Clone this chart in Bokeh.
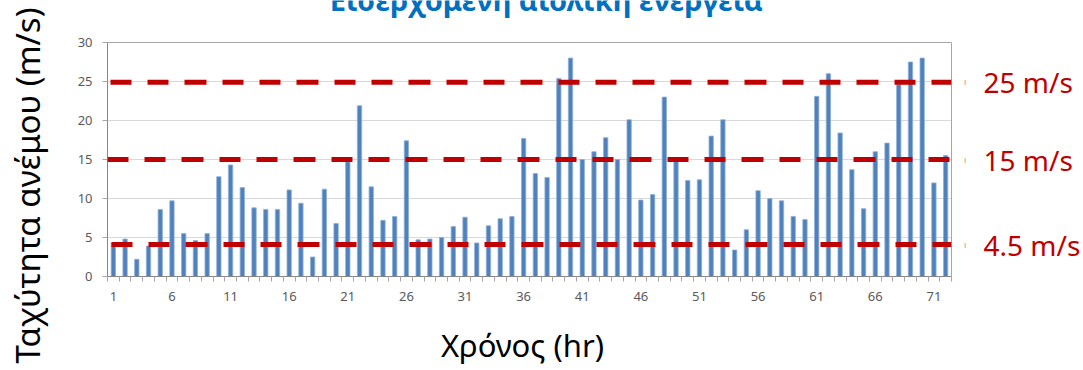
from bokeh.plotting import figure
from bokeh.models import Range1d, FixedTicker, Span, LinearAxis
from bokeh.core.properties import value
from bokeh.embed import file_html
from bokeh.resources import INLINE

# ---- data ----
hours = list(range(1, 73))
wind_speed = [4.3, 4.8, 2.2, 3.9, 8.6, 9.7, 5.5, 4.6, 5.5, 12.8,
              14.3, 11.4, 8.8, 8.6, 8.6, 11.1, 9.4, 2.5, 11.2, 6.8,
              14.7, 21.9, 11.5, 7.2, 7.7, 17.4, 4.7, 4.8, 5.0, 6.4,
              7.6, 4.3, 6.5, 7.4, 7.7, 17.7, 13.2, 12.7, 25.4, 28.0,
              15.0, 16.0, 17.8, 15.0, 20.1, 9.8, 10.5, 23.0, 14.8, 12.3,
              12.4, 18.0, 20.1, 3.4, 6.0, 11.0, 10.0, 9.7, 7.7, 7.3,
              23.1, 26.0, 18.4, 13.7, 8.7, 16.0, 17.1, 24.6, 27.5, 28.0,
              12.0, 15.5]
xtick_values = [1, 6, 11, 16, 21, 26, 31, 36, 41, 46, 51, 56, 61, 66, 71]
xtick_labels = ["1", "6", "11", "16", "21", "26", "31", "36", "41", "46", "51", "56", "61", "66", "71"]
ytick_values = [0, 5, 10, 15, 20, 25, 30]
threshold_levels = [24.9, 15.0, 4.1]
threshold_labels = ["25 m/s", "15 m/s", "4.5 m/s"]

title_text = "Εισερχόμενη αιολική ενέργεια"
x_title = "Χρόνος (hr)"
y_title = "Ταχύτητα ανέμου (m/s)"

FONT = "Noto Sans"
RED = "#c00000"
GREY_TXT = "#595959"
BORDER = "#a6a6a6"

# frame reaches the top edge so the (cut-off) title can sit above the 0..30 box
p = figure(width=1083, height=370, output_backend="svg", toolbar_location=None,
           x_range=Range1d(0.5, 72.5), y_range=Range1d(0, 35.385),
           min_border_left=107, min_border_right=128, min_border_top=0, min_border_bottom=94)
p.background_fill_color = "white"
p.border_fill_color = "white"
p.outline_line_color = None

p.vbar(x=hours, top=wind_speed, width=0.37, fill_color="#4f81bd",
       line_color="#8fb0d8", line_width=0.8)

# x axis
xa = p.xaxis[0]
xa.ticker = FixedTicker(ticks=xtick_values, minor_ticks=[h - 0.5 for h in hours] + [72.5])
xa.major_label_overrides = {v: l for v, l in zip(xtick_values, xtick_labels)}
xa.major_tick_in = 0
xa.major_tick_out = 0
xa.minor_tick_in = 0
xa.minor_tick_out = 5
xa.minor_tick_line_color = BORDER
xa.axis_line_color = "#868686"
xa.major_label_standoff = 10
xa.major_label_text_font = FONT
xa.major_label_text_font_size = "13px"
xa.major_label_text_color = GREY_TXT

# y axis
ya = p.yaxis[0]
ya.bounds = (0, 30)
ya.ticker = FixedTicker(ticks=ytick_values, minor_ticks=[])
ya.major_tick_in = 0
ya.major_tick_out = 5
ya.major_tick_line_color = BORDER
ya.axis_line_color = "#868686"
ya.major_label_standoff = 10
ya.major_label_text_font = FONT
ya.major_label_text_font_size = "13px"
ya.major_label_text_color = GREY_TXT

p.xgrid.grid_line_color = None
p.ygrid.grid_line_color = "#d9d9d9"
p.ygrid.grid_line_width = 1

# top border of the plot box
p.add_layout(Span(location=30, dimension="width", line_color=BORDER, line_width=1))

# threshold dashed lines
offsets = [109, 0, 108]
for lvl, off in zip(threshold_levels, offsets):
    p.add_layout(Span(location=lvl, dimension="width", line_color=RED, line_width=5,
                      line_dash="21 16 21 16 22 16", line_dash_offset=off))

# right border + tiny red marks
r1 = LinearAxis(bounds=(0, 30), ticker=FixedTicker(ticks=threshold_levels, minor_ticks=[]),
                major_label_overrides={v: "|" for v in threshold_levels})
r1.axis_line_color = BORDER
r1.major_tick_in = 0
r1.major_tick_out = 0
r1.major_label_standoff = 12
r1.major_label_text_font = FONT
r1.major_label_text_font_size = "6px"
r1.major_label_text_color = RED
p.add_layout(r1, "right")

# right threshold labels
r2 = LinearAxis(ticker=FixedTicker(ticks=threshold_levels, minor_ticks=[]),
                major_label_overrides={v: t for v, t in zip(threshold_levels, threshold_labels)})
r2.axis_line_color = None
r2.major_tick_in = 0
r2.major_tick_out = 0
r2.major_label_standoff = 14
r2.major_label_text_font = FONT
r2.major_label_text_font_size = "28px"
r2.major_label_text_color = RED
p.add_layout(r2, "right")

# y axis title
ytitle_pos = 11.67
l2 = LinearAxis(ticker=FixedTicker(ticks=[ytitle_pos], minor_ticks=[]),
                major_label_overrides={ytitle_pos: y_title})
l2.axis_line_color = None
l2.major_tick_in = 0
l2.major_tick_out = 0
l2.major_label_orientation = "vertical"
l2.major_label_standoff = 24
l2.major_label_text_font = FONT
l2.major_label_text_font_size = "33px"
l2.major_label_text_color = "black"
p.add_layout(l2, "left")

# x axis title
xtitle_pos = 35.9
b2 = LinearAxis(ticker=FixedTicker(ticks=[xtitle_pos], minor_ticks=[]),
                major_label_overrides={xtitle_pos: x_title})
b2.axis_line_color = None
b2.major_tick_in = 0
b2.major_tick_out = 0
b2.major_label_standoff = 20
b2.major_label_text_font = FONT
b2.major_label_text_font_size = "31px"
b2.major_label_text_color = "black"
p.add_layout(b2, "below")

# chart title, cut off at the top edge as in the original
p.text(x=[37.94], y=[34.23], text=[title_text], text_font=value(FONT),
       text_font_size="29px", text_font_style="bold", text_color="#0070c0",
       text_align="center", text_baseline="alphabetic", y_offset=-10)

open("out.html", "w").write(file_html(p, INLINE))
